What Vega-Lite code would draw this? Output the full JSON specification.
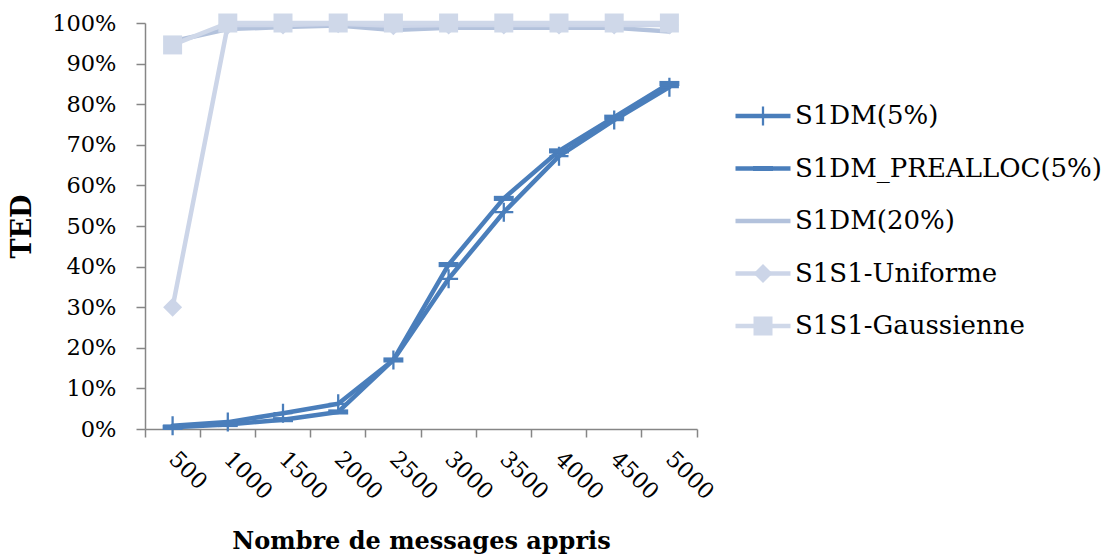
{
  "$schema": "https://vega.github.io/schema/vega-lite/v6.json",
  "width": 552,
  "height": 406,
  "autosize": {"type": "none"},
  "padding": {"left": 145, "top": 23, "right": 415, "bottom": 129},
  "background": "white",
  "config": {
    "view": {"stroke": null},
    "font": "DejaVu Serif",
    "axis": {
      "grid": false,
      "domainColor": "#868686",
      "tickColor": "#868686",
      "domainWidth": 1.5,
      "tickWidth": 1.5,
      "labelFont": "DejaVu Serif",
      "labelFontSize": 22.5,
      "labelColor": "#000000",
      "titleFont": "DejaVu Serif",
      "titleFontWeight": "bold",
      "titleColor": "#000000"
    }
  },
  "data": {
    "values": [
      {"series": "S1DM(5%)", "messages": 500, "ted": 0.008},
      {"series": "S1DM(5%)", "messages": 1000, "ted": 0.017},
      {"series": "S1DM(5%)", "messages": 1500, "ted": 0.039},
      {"series": "S1DM(5%)", "messages": 2000, "ted": 0.062},
      {"series": "S1DM(5%)", "messages": 2500, "ted": 0.17},
      {"series": "S1DM(5%)", "messages": 3000, "ted": 0.37},
      {"series": "S1DM(5%)", "messages": 3500, "ted": 0.534},
      {"series": "S1DM(5%)", "messages": 4000, "ted": 0.672},
      {"series": "S1DM(5%)", "messages": 4500, "ted": 0.761},
      {"series": "S1DM(5%)", "messages": 5000, "ted": 0.842},
      {"series": "S1DM_PREALLOC(5%)", "messages": 500, "ted": 0.004},
      {"series": "S1DM_PREALLOC(5%)", "messages": 1000, "ted": 0.011},
      {"series": "S1DM_PREALLOC(5%)", "messages": 1500, "ted": 0.023},
      {"series": "S1DM_PREALLOC(5%)", "messages": 2000, "ted": 0.042},
      {"series": "S1DM_PREALLOC(5%)", "messages": 2500, "ted": 0.17},
      {"series": "S1DM_PREALLOC(5%)", "messages": 3000, "ted": 0.405},
      {"series": "S1DM_PREALLOC(5%)", "messages": 3500, "ted": 0.568},
      {"series": "S1DM_PREALLOC(5%)", "messages": 4000, "ted": 0.685},
      {"series": "S1DM_PREALLOC(5%)", "messages": 4500, "ted": 0.768},
      {"series": "S1DM_PREALLOC(5%)", "messages": 5000, "ted": 0.851},
      {"series": "S1DM(20%)", "messages": 500, "ted": 0.955},
      {"series": "S1DM(20%)", "messages": 1000, "ted": 0.985},
      {"series": "S1DM(20%)", "messages": 1500, "ted": 0.99},
      {"series": "S1DM(20%)", "messages": 2000, "ted": 0.994},
      {"series": "S1DM(20%)", "messages": 2500, "ted": 0.983},
      {"series": "S1DM(20%)", "messages": 3000, "ted": 0.988},
      {"series": "S1DM(20%)", "messages": 3500, "ted": 0.988},
      {"series": "S1DM(20%)", "messages": 4000, "ted": 0.988},
      {"series": "S1DM(20%)", "messages": 4500, "ted": 0.988},
      {"series": "S1DM(20%)", "messages": 5000, "ted": 0.979},
      {"series": "S1S1-Uniforme", "messages": 500, "ted": 0.30},
      {"series": "S1S1-Uniforme", "messages": 1000, "ted": 0.995},
      {"series": "S1S1-Uniforme", "messages": 1500, "ted": 0.995},
      {"series": "S1S1-Uniforme", "messages": 2000, "ted": 0.998},
      {"series": "S1S1-Uniforme", "messages": 2500, "ted": 0.993},
      {"series": "S1S1-Uniforme", "messages": 3000, "ted": 0.995},
      {"series": "S1S1-Uniforme", "messages": 3500, "ted": 0.995},
      {"series": "S1S1-Uniforme", "messages": 4000, "ted": 0.995},
      {"series": "S1S1-Uniforme", "messages": 4500, "ted": 0.995},
      {"series": "S1S1-Uniforme", "messages": 5000, "ted": 0.995},
      {"series": "S1S1-Gaussienne", "messages": 500, "ted": 0.946},
      {"series": "S1S1-Gaussienne", "messages": 1000, "ted": 1.0},
      {"series": "S1S1-Gaussienne", "messages": 1500, "ted": 1.0},
      {"series": "S1S1-Gaussienne", "messages": 2000, "ted": 1.0},
      {"series": "S1S1-Gaussienne", "messages": 2500, "ted": 1.0},
      {"series": "S1S1-Gaussienne", "messages": 3000, "ted": 1.0},
      {"series": "S1S1-Gaussienne", "messages": 3500, "ted": 1.0},
      {"series": "S1S1-Gaussienne", "messages": 4000, "ted": 1.0},
      {"series": "S1S1-Gaussienne", "messages": 4500, "ted": 1.0},
      {"series": "S1S1-Gaussienne", "messages": 5000, "ted": 1.0}
    ]
  },
  "layer": [
    {
      "mark": {"type": "line", "strokeWidth": 4.5, "strokeJoin": "round", "strokeCap": "round"},
      "encoding": {
        "x": {
          "field": "messages",
          "type": "ordinal",
          "bandPosition": 0.5,
          "scale": {"type": "band", "paddingInner": 0, "paddingOuter": 0},
          "axis": {
            "title": "Nombre de messages appris",
            "titleFontSize": 24,
            "labelAngle": 45,
            "labelAlign": "left",
            "labelBaseline": "middle",
            "bandPosition": 1,
            "tickExtra": true,
            "tickSize": 8,
            "labelPadding": 18,
            "titlePadding": 26
          }
        },
        "y": {
          "field": "ted",
          "type": "quantitative",
          "scale": {"domain": [0, 1]},
          "axis": {
            "title": "TED",
            "titleFontSize": 27,
            "format": ".0%",
            "values": [0, 0.1, 0.2, 0.3, 0.4, 0.5, 0.6, 0.7, 0.8, 0.9, 1],
            "tickSize": 9,
            "labelPadding": 20,
            "titlePadding": 15
          }
        },
        "color": {
          "field": "series",
          "type": "nominal",
          "scale": {
            "domain": ["S1DM(5%)", "S1DM_PREALLOC(5%)", "S1DM(20%)", "S1S1-Uniforme", "S1S1-Gaussienne"],
            "range": ["#4A7EBB", "#4A7EBB", "#B3C2DC", "#CCD5E8", "#CFD8E9"]
          },
          "legend": {
            "orient": "none",
            "legendX": 588,
            "legendY": 78,
            "title": null,
            "padding": 0,
            "clipHeight": 30,
            "rowPadding": 22.5,
            "symbolType": "stroke",
            "symbolSize": 3025,
            "symbolStrokeWidth": 4.5,
            "labelFont": "DejaVu Serif",
            "labelFontSize": 26,
            "labelColor": "#000000",
            "labelOffset": 2,
            "labelLimit": 500
          }
        }
      }
    },
    {
      "mark": {"type": "point", "filled": true, "size": 361, "opacity": 1, "strokeWidth": 0},
      "encoding": {
        "x": {"field": "messages", "type": "ordinal", "bandPosition": 0.5},
        "y": {"field": "ted", "type": "quantitative"},
        "shape": {
          "field": "series",
          "type": "nominal",
          "scale": {
            "domain": ["S1S1-Gaussienne", "S1S1-Uniforme", "S1DM(20%)", "S1DM_PREALLOC(5%)", "S1DM(5%)"],
            "range": ["square", "diamond", "M0,0", "M-1.05,-0.27H1.05V0.27H-1.05Z", "M-0.12,-1H0.12V-0.12H1V0.12H0.12V1H-0.12V0.12H-1V-0.12H-0.12Z"]
          },
          "legend": {
            "orient": "none",
            "legendX": 588,
            "legendY": 78,
            "title": null,
            "padding": 0,
            "clipHeight": 30,
            "rowPadding": 22.5,
            "values": ["S1DM(5%)", "S1DM_PREALLOC(5%)", "S1DM(20%)", "S1S1-Uniforme", "S1S1-Gaussienne"],
            "symbolSize": 361,
            "symbolOffset": 20.5,
            "symbolStrokeWidth": 0,
            "labelExpr": "''",
            "labelFontSize": 1
          }
        },
        "fill": {
          "field": "series",
          "type": "nominal",
          "scale": {
            "domain": ["S1S1-Gaussienne", "S1S1-Uniforme", "S1DM(20%)", "S1DM_PREALLOC(5%)", "S1DM(5%)"],
            "range": ["#CFD8E9", "#CCD5E8", "#B3C2DC", "#4A7EBB", "#4A7EBB"]
          }
        }
      }
    }
  ]
}
